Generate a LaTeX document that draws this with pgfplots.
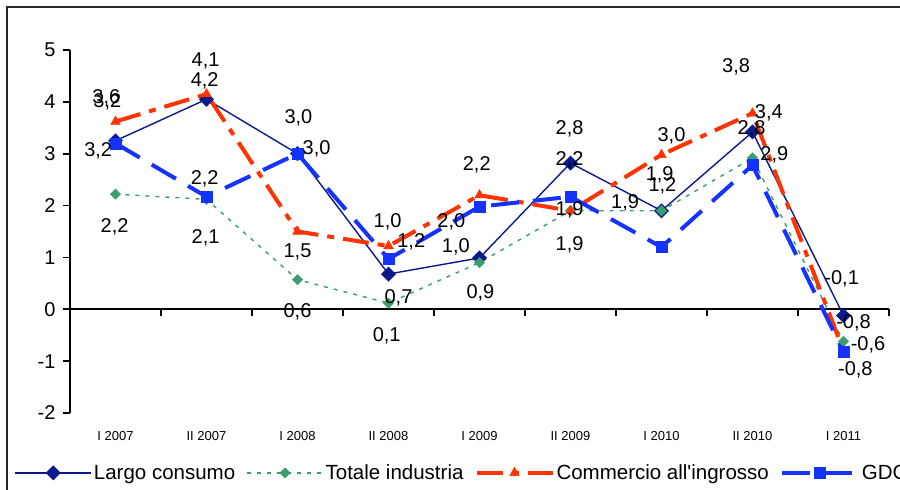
\documentclass[border=0pt]{standalone}
\usepackage{pgfplots}
\pgfplotsset{compat=1.18}
\usepackage{fontspec}
\setmainfont{Liberation Sans}
\newfontfamily\plainfont{Liberation Sans}
\definecolor{cNavy}{HTML}{0A1A8C}
\definecolor{cGreen}{HTML}{3A9E6E}
\definecolor{cRed}{HTML}{FF3300}
\definecolor{cBlue}{HTML}{1433FF}

\pgfplotstableread[row sep=\\]{
x y l\\
-0.10 4.07 3,6\\
-0.09 4.00 3,2\\
-0.19 3.05 3,2\\
0.99 4.79 4,1\\
0.98 4.40 4,2\\
2.01 3.69 3,0\\
2.21 3.09 3,0\\
0.98 2.51 2,2\\
-0.01 1.60 2,2\\
0.99 1.37 2,1\\
2.00 1.10 1,5\\
2.00 -0.05 0,6\\
2.99 1.68 1,0\\
3.25 1.31 1,2\\
3.11 0.23 0,7\\
2.98 -0.52 0,1\\
3.69 1.68 2,0\\
3.74 1.21 1,0\\
4.01 0.31 0,9\\
3.97 2.78 2,2\\
4.99 3.49 2,8\\
4.99 2.89 2,2\\
4.99 1.91 1,9\\
4.99 1.24 1,9\\
6.11 3.34 3,0\\
5.98 2.60 1,9\\
6.01 2.39 1,2\\
5.60 2.06 1,9\\
6.82 4.67 3,8\\
7.18 3.78 3,4\\
6.99 3.49 2,8\\
7.24 2.97 2,9\\
7.98 0.58 -0,1\\
8.11 -0.27 -0,8\\
8.27 -0.69 -0,6\\
8.13 -1.17 -0,8\\
}\labels

\begin{document}
\begin{tikzpicture}
\useasboundingbox (0,0) rectangle (900pt,-490pt);
\clip (0,0) rectangle (900pt,-490pt);
\fill[white] (0,0) rectangle (900pt,-490pt);
\draw[line width=2.2pt, black!85] (7pt,-7pt) rectangle (910pt,-500pt);
\begin{axis}[
  at={(70pt,-50pt)}, anchor=north west,
  scale only axis, width=819pt, height=363pt,
  xmin=-0.5, xmax=8.5, ymin=-2, ymax=5,
  axis x line=middle, axis y line=left,
  axis line style={-, line width=1.8pt, black},
  hide obscured x ticks=false, hide obscured y ticks=false,
  xtick={-0.5,0.5,...,8.5},
  xticklabels={I 2007,II 2007,I 2008,II 2008,I 2009,II 2009,I 2010,II 2010,I 2011},
  x tick label as interval,
  ytick={-2,-1,0,1,2,3,4,5},
  tick align=outside,
  major tick length=7pt,
  tick style={line width=1.8pt, black},
  /pgf/number format/assume math mode=true,
  xticklabel style={font=\fontsize{13}{13}\selectfont, yshift=-112pt},
  yticklabel style={font=\fontsize{20}{20}\selectfont, xshift=-4pt},
  legend columns=4,
  legend style={at={(axis description cs:-0.068,-0.165)}, anchor=west, draw=none, fill=none,
    font=\fontsize{20.5}{20.5}\selectfont, inner sep=0pt,
    /tikz/every even column/.append style={column sep=9pt}},
  legend image code/.code={\draw[mark repeat=2,mark phase=2,#1] plot coordinates {(0pt,0pt) (38pt,0pt) (76pt,0pt)};},
]
\addplot[cNavy, line width=1.4pt, mark=square*, mark size=4.6pt, mark options={rotate=45, solid}]
 coordinates {(0,3.25)(1,4.05)(2,3.0)(3,0.68)(4,0.99)(5,2.82)(6,1.9)(7,3.42)(8,-0.12)};
\addplot[cGreen, line width=1.4pt, dash pattern=on 4pt off 6pt, mark=square*, mark size=3.2pt, mark options={rotate=45, solid}]
 coordinates {(0,2.22)(1,2.12)(2,0.57)(3,0.12)(4,0.9)(5,1.9)(6,1.9)(7,2.92)(8,-0.62)};
\addplot[cRed, line width=4pt, dash pattern=on 26pt off 9pt on 7pt off 9pt, mark=triangle*, mark size=5.5pt, mark options={solid, line width=0.5pt}]
 coordinates {(0,3.62)(1,4.15)(2,1.5)(3,1.22)(4,2.2)(5,1.9)(6,2.98)(7,3.78)(8,-0.8)};
\addplot[cBlue, line width=4pt, dash pattern=on 28pt off 14pt, mark=square*, mark size=5.5pt, mark options={solid, line width=0.5pt}]
 coordinates {(0,3.2)(1,2.17)(2,3.0)(3,0.97)(4,1.98)(5,2.17)(6,1.2)(7,2.78)(8,-0.82)};
\legend{Largo consumo,Totale industria,Commercio all{\plainfont'}ingrosso,GDC}
\addplot[forget plot, draw=none, mark=none, nodes near coords, point meta=explicit symbolic,
  nodes near coords style={anchor=center, font=\fontsize{20}{20}\selectfont, text=black, inner sep=0pt}]
  table[x=x, y=y, meta=l] {\labels};
\end{axis}
\end{tikzpicture}
\end{document}
